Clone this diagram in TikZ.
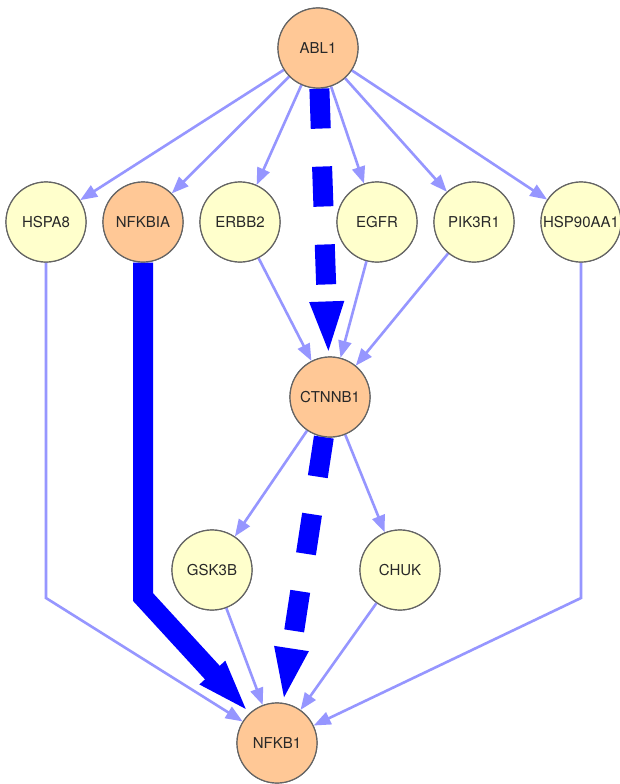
\documentclass[tikz,border=0pt]{standalone}
\usepackage{fontspec}
\setmainfont{TeX Gyre Heros}
\usetikzlibrary{arrows.meta}
\definecolor{orangefill}{RGB}{255,200,150}
\definecolor{yellowfill}{RGB}{255,255,204}
\definecolor{nodeborder}{RGB}{100,100,100}
\definecolor{thinblue}{RGB}{150,150,255}
\definecolor{thickblue}{RGB}{0,0,255}
\definecolor{labeltext}{RGB}{40,40,40}
\tikzset{
  gene/.style={circle, draw=nodeborder, line width=1.2pt, minimum size=80pt, inner sep=0pt,
    font=\fontsize{15}{17}\selectfont, text=labeltext},
  hub/.style={gene, fill=orangefill},
  leaf/.style={gene, fill=yellowfill},
  thinedge/.style={draw=thinblue, line width=2.6pt, line join=miter,
    -{Triangle[length=17pt, width=13pt]}},
  thickedge/.style={draw=thickblue, line width=20pt, line join=miter,
    -{Triangle[length=55pt, width=30pt]}},
  thickdash/.style={thickedge, dash pattern=on 40pt off 38pt},
}
\begin{document}
\begin{tikzpicture}[x=1pt, y=-1pt]
\useasboundingbox[fill=white] (0,0) rectangle (620,784);
\node[hub]  (abl1)   at (318,48)  {ABL1};
\node[leaf] (hspa8)  at (46,222)  {HSPA8};
\node[hub]  (nfkbia) at (143,222) {NFKBIA};
\node[leaf] (erbb2)  at (240,222) {ERBB2};
\node[leaf] (egfr)   at (377,222) {EGFR};
\node[leaf] (pik3r1) at (474,222) {PIK3R1};
\node[leaf] (hsp90)  at (581,222) {HSP90AA1};
\node[hub]  (ctnnb1) at (330,397) {CTNNB1};
\node[leaf] (gsk3b)  at (212,570) {GSK3B};
\node[leaf] (chuk)   at (400,570) {CHUK};
\node[hub]  (nfkb1)  at (277,743) {NFKB1};
\coordinate (bendA) at (46,598);
\coordinate (bendB) at (143,597);
\coordinate (bendC) at (581,598);
% thin edges
\draw[thinedge] (abl1) -- (hspa8);
\draw[thinedge] (abl1) -- (nfkbia);
\draw[thinedge] (abl1) -- (erbb2);
\draw[thinedge] (abl1) -- (egfr);
\draw[thinedge] (abl1) -- (pik3r1);
\draw[thinedge] (abl1) -- (hsp90);
\draw[thinedge] (erbb2) -- (ctnnb1);
\draw[thinedge] (egfr) -- (ctnnb1);
\draw[thinedge] (pik3r1) -- (ctnnb1);
\draw[thinedge] (ctnnb1) -- (gsk3b);
\draw[thinedge] (ctnnb1) -- (chuk);
\draw[thinedge] (gsk3b) -- (nfkb1);
\draw[thinedge] (chuk) -- (nfkb1);
\draw[thinedge] (hspa8) -- (bendA) -- (nfkb1);
\draw[thinedge] (hsp90) -- (bendC) -- (nfkb1);
% thick edges
\draw[thickedge] (nfkbia) -- (bendB) -- (nfkb1);
\draw[thickdash] (abl1) -- (ctnnb1);
\draw[thickdash] (ctnnb1) -- (nfkb1);
% redraw nodes on top
\node[hub]  at (abl1)   {ABL1};
\node[leaf] at (hspa8)  {HSPA8};
\node[hub]  at (nfkbia) {NFKBIA};
\node[leaf] at (erbb2)  {ERBB2};
\node[leaf] at (egfr)   {EGFR};
\node[leaf] at (pik3r1) {PIK3R1};
\node[leaf] at (hsp90)  {HSP90AA1};
\node[hub]  at (ctnnb1) {CTNNB1};
\node[leaf] at (gsk3b)  {GSK3B};
\node[leaf] at (chuk)   {CHUK};
\node[hub]  at (nfkb1)  {NFKB1};
\end{tikzpicture}
\end{document}
